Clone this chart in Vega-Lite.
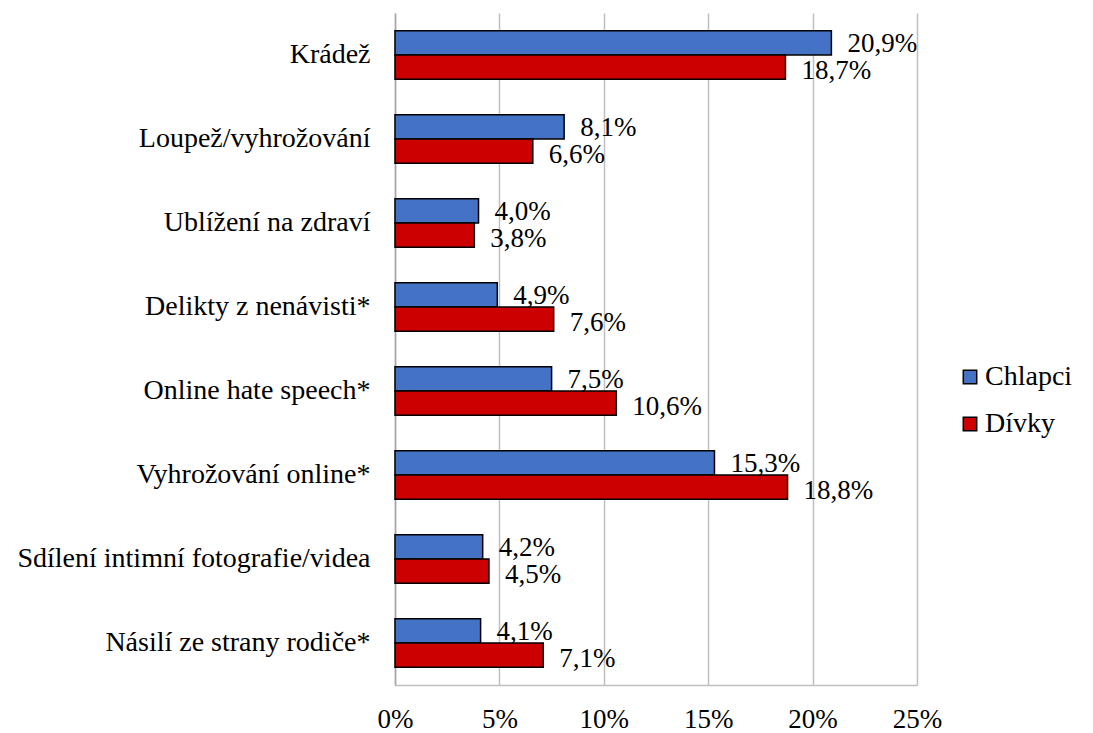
{
  "$schema": "https://vega.github.io/schema/vega-lite/v6.json",
  "width": 522,
  "height": 672,
  "autosize": {"type": "none"},
  "padding": {"left": 395, "top": 13, "right": 176, "bottom": 48},
  "background": "white",
  "config": {
    "locale": {"number": {"decimal": ",", "thousands": " ", "grouping": [3], "currency": ["", " Kč"]}},
    "font": "Liberation Serif",
    "view": {"stroke": null}
  },
  "data": {
    "values": [
      {"cat": "Krádež", "g": "Chlapci", "v": 0.209},
      {"cat": "Krádež", "g": "Dívky", "v": 0.187},
      {"cat": "Loupež/vyhrožování", "g": "Chlapci", "v": 0.081},
      {"cat": "Loupež/vyhrožování", "g": "Dívky", "v": 0.066},
      {"cat": "Ublížení na zdraví", "g": "Chlapci", "v": 0.040},
      {"cat": "Ublížení na zdraví", "g": "Dívky", "v": 0.038},
      {"cat": "Delikty z nenávisti*", "g": "Chlapci", "v": 0.049},
      {"cat": "Delikty z nenávisti*", "g": "Dívky", "v": 0.076},
      {"cat": "Online hate speech*", "g": "Chlapci", "v": 0.075},
      {"cat": "Online hate speech*", "g": "Dívky", "v": 0.106},
      {"cat": "Vyhrožování online*", "g": "Chlapci", "v": 0.153},
      {"cat": "Vyhrožování online*", "g": "Dívky", "v": 0.188},
      {"cat": "Sdílení intimní fotografie/videa", "g": "Chlapci", "v": 0.042},
      {"cat": "Sdílení intimní fotografie/videa", "g": "Dívky", "v": 0.045},
      {"cat": "Násilí ze strany rodiče*", "g": "Chlapci", "v": 0.041},
      {"cat": "Násilí ze strany rodiče*", "g": "Dívky", "v": 0.071}
    ]
  },
  "encoding": {
    "y": {
      "field": "cat", "type": "nominal", "sort": null,
      "scale": {"paddingInner": 0.42, "paddingOuter": 0.21},
      "axis": {"title": null, "ticks": false, "domain": true, "domainColor": "#a6a6a6", "domainWidth": 1.5,
               "labelFontSize": 28, "labelColor": "#000000", "labelPadding": 25, "labelLimit": 400}
    },
    "yOffset": {"field": "g", "type": "nominal", "sort": ["Chlapci", "Dívky"]},
    "x": {
      "field": "v", "type": "quantitative",
      "scale": {"domain": [0, 0.25], "nice": false},
      "axis": {"title": null, "format": ".0%", "values": [0, 0.05, 0.1, 0.15, 0.2, 0.25],
               "ticks": false, "domain": true, "domainColor": "#bfbfbf", "domainWidth": 1.5,
               "grid": true, "gridColor": "#bfbfbf", "gridWidth": 1.5, "labelFlush": false,
               "labelFontSize": 27, "labelColor": "#000000", "labelPadding": 21}
    }
  },
  "layer": [
    {
      "mark": {"type": "bar", "stroke": "#000000", "strokeWidth": 1.5},
      "encoding": {
        "color": {
          "field": "g", "type": "nominal",
          "scale": {"domain": ["Chlapci", "Dívky"], "range": ["#4472c4", "#cc0000"]},
          "legend": {
            "title": null, "orient": "none", "legendX": 561, "legendY": 350,
            "symbolType": "square", "symbolSize": 180, "symbolStrokeColor": "#000000", "symbolStrokeWidth": 1.5,
            "labelFontSize": 28, "labelColor": "#000000", "rowPadding": 19, "labelOffset": 1
          }
        }
      }
    },
    {
      "transform": [{"filter": "datum.g === 'Chlapci'"}],
      "mark": {"type": "text", "align": "left", "dx": 16, "dy": 1, "fontSize": 27, "color": "#000000"},
      "encoding": {
        "text": {"field": "v", "type": "quantitative", "format": ".1%"}
      }
    },
    {
      "transform": [{"filter": "datum.g === 'Dívky'"}],
      "mark": {"type": "text", "align": "left", "dx": 16, "dy": 4, "fontSize": 27, "color": "#000000"},
      "encoding": {
        "text": {"field": "v", "type": "quantitative", "format": ".1%"}
      }
    }
  ]
}
